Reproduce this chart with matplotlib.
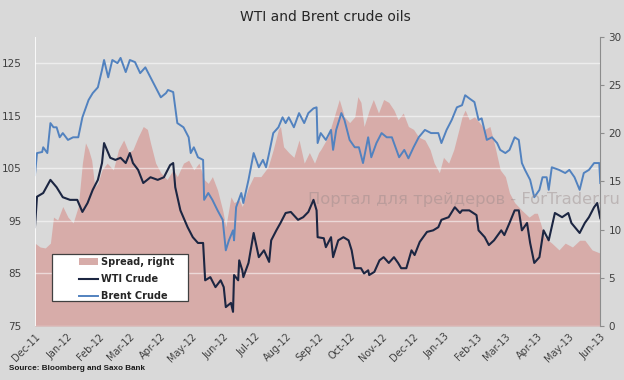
import matplotlib
matplotlib.use("Agg")
import matplotlib.pyplot as plt
from matplotlib.patches import Patch, Rectangle
from matplotlib.lines import Line2D
import pandas as pd

start = pd.Timestamp("2011-12-01")

wti_day = [0, 2, 8, 15, 21, 27, 34, 41, 46, 51, 56, 61, 65, 67, 73, 78, 83, 88, 92, 95, 100, 105, 112, 119, 125,
           131, 134, 136, 141, 148, 153, 158, 163, 165, 170, 175, 180, 183, 185, 190, 192, 193, 197, 198, 201, 202,
           207, 212, 217, 222, 227, 229, 234, 238, 243, 248, 255, 260, 265, 270, 273, 274, 280, 282, 287, 289, 294,
           299, 304, 307, 310, 316, 319, 323, 324, 329, 334, 338, 343, 348, 352, 355, 360, 365, 368, 373, 380, 386,
           391, 394, 401, 407, 412, 414, 421, 428, 430, 436, 440, 445, 452, 455, 460, 465, 469, 472, 477, 480, 484,
           489, 493, 498, 504, 511, 517, 520, 528, 533, 537, 542, 545, 548]
wti_val = [93.8, 99.6, 100.3, 102.8, 101.4, 99.5, 99.0, 99.0, 96.7, 98.4, 100.9, 102.8, 106.0, 109.8, 107.0, 106.6,
           107.0, 106.0, 107.9, 106.0, 104.7, 102.2, 103.3, 102.8, 103.3, 105.6, 106.0, 101.4, 97.0, 93.8, 91.9, 90.8,
           90.8, 83.7, 84.3, 82.4, 83.7, 82.4, 78.6, 79.4, 77.7, 84.7, 83.7, 87.5, 85.6, 84.3, 87.0, 92.7, 88.1, 89.4,
           87.2, 91.3, 93.2, 94.6, 96.5, 96.7, 95.2, 95.7, 96.7, 99.0, 97.0, 91.9, 91.7, 90.0, 91.9, 88.1, 91.3, 91.9,
           91.3, 89.4, 86.0, 86.0, 85.0, 85.6, 84.7, 85.3, 87.5, 88.1, 87.0, 88.1, 87.0, 86.0, 86.0, 89.4, 88.5, 91.0,
           92.9, 93.2, 93.8, 95.2, 95.7, 97.6, 96.5, 97.0, 97.0, 96.1, 93.2, 91.9, 90.4, 91.3, 93.2, 92.3, 94.6, 97.0,
           97.0, 93.2, 94.6, 90.8, 87.0, 88.1, 93.2, 91.3, 96.5, 95.7, 96.5, 94.6, 92.7, 94.6, 95.7, 97.6, 98.4, 95.5]

brent_day = [0, 2, 7, 8, 12, 15, 18, 21, 24, 27, 32, 37, 42, 46, 52, 56, 61, 65, 67, 71, 75, 80, 83, 88, 92, 97,
             102, 107, 112, 117, 122, 127, 129, 134, 138, 144, 149, 151, 154, 158, 163, 164, 168, 172, 177, 182, 185,
             188, 192, 193, 195, 200, 202, 207, 212, 217, 221, 224, 227, 231, 236, 240, 243, 246, 251, 256, 261, 265,
             270, 273, 274, 277, 282, 287, 289, 292, 297, 300, 305, 310, 314, 318, 323, 326, 331, 336, 341, 346, 348,
             353, 358, 362, 367, 372, 378, 384, 391, 394, 399, 404, 409, 414, 417, 421, 426, 430, 433, 438, 443, 448,
             451, 456, 460, 465, 469, 472, 475, 480, 484, 489, 492, 496, 498, 501, 508, 514, 518, 523, 528, 532, 537,
             542, 547, 548]
brent_val = [103.7, 107.9, 108.1, 109.0, 107.9, 113.6, 112.8, 112.8, 110.9, 111.7, 110.4, 110.9, 110.9, 114.7, 118.0,
             119.3, 120.4, 123.7, 125.6, 122.3, 125.6, 125.0, 126.0, 123.3, 125.6, 125.2, 123.1, 124.2, 122.3, 120.4,
             118.5, 119.3, 119.9, 119.5, 113.6, 112.8, 110.9, 107.9, 109.0, 107.1, 106.6, 99.0, 100.3, 99.0, 97.0,
             95.2, 89.4, 91.3, 93.2, 91.3, 97.6, 100.3, 98.4, 102.8, 107.9, 105.2, 106.6, 105.2, 107.9, 111.7, 112.8,
             114.7, 113.6, 114.7, 112.8, 115.5, 113.6, 115.5, 116.4, 116.6, 109.8, 111.7, 110.4, 112.3, 108.5, 112.3,
             115.5, 114.2, 110.4, 109.0, 109.0, 106.0, 110.9, 107.1, 109.8, 111.7, 110.9, 110.9, 109.8, 107.1, 108.5,
             106.9, 109.0, 110.9, 112.3, 111.7, 111.7, 109.8, 112.3, 114.2, 116.6, 117.0, 118.9, 118.3, 117.6, 114.2,
             114.5, 110.4, 110.9, 109.8, 108.5, 107.9, 108.5, 110.9, 110.4, 106.0, 104.7, 102.8, 99.5, 100.9, 103.3,
             103.3, 100.9, 105.2, 104.7, 104.1, 104.7, 103.3, 100.9, 104.1, 104.7, 106.0, 106.0, 102.2]

spread_day = [0, 5, 10, 15, 18, 22, 27, 32, 37, 42, 46, 49, 52, 55, 58, 61, 65, 70, 76, 81, 86, 91, 95, 100, 105,
              109, 112, 117, 122, 128, 134, 138, 144, 149, 154, 159, 164, 168, 172, 177, 182, 185, 190, 193, 198, 201,
              207, 212, 219, 226, 231, 236, 238, 241, 246, 251, 256, 261, 266, 271, 275, 277, 284, 290, 295, 300, 305,
              310, 313, 316, 319, 324, 328, 333, 338, 343, 348, 352, 357, 362, 367, 372, 378, 383, 387, 392, 396, 401,
              406, 411, 414, 417, 421, 426, 431, 436, 441, 446, 451, 456, 460, 465, 472, 479, 484, 487, 490, 494, 501,
              508, 514, 521, 528, 533, 540, 547, 548]
spread_val = [8.6, 8.2, 8.1, 8.6, 11.3, 11.0, 12.4, 11.3, 10.7, 12.4, 16.9, 19.0, 18.3, 17.2, 14.4, 14.8, 16.2, 16.9,
              16.2, 18.3, 19.3, 18.0, 18.3, 19.6, 20.7, 20.4, 19.0, 16.9, 15.9, 15.2, 16.2, 15.5, 16.9, 17.2, 16.2,
              16.9, 15.2, 14.8, 15.5, 14.1, 12.0, 10.3, 13.4, 12.8, 13.1, 12.4, 14.4, 15.5, 15.5, 16.5, 18.3, 20.4,
              20.7, 18.6, 18.0, 17.5, 19.3, 16.9, 18.0, 16.9, 18.0, 18.3, 19.6, 21.7, 23.5, 21.7, 21.1, 21.7, 23.8,
              23.2, 20.7, 22.4, 23.5, 22.1, 23.5, 23.2, 22.4, 21.4, 22.1, 20.7, 20.4, 19.6, 19.3, 18.3, 16.9, 15.9,
              17.5, 16.9, 18.3, 20.4, 21.7, 22.4, 21.4, 21.7, 21.1, 20.4, 20.7, 18.6, 16.2, 15.5, 13.8, 12.8, 12.0,
              11.3, 11.7, 11.7, 10.7, 9.2, 8.6, 7.9, 8.6, 8.2, 8.9, 8.9, 7.9, 7.6, 7.6]

month_ticks = pd.date_range("2011-12-01", "2013-06-01", freq="MS")
month_labels = [d.strftime("%b-%y") for d in month_ticks]

title = "WTI and Brent crude oils"
source = "Source: Bloomberg and Saxo Bank"
watermark = "Портал для трейдеров - ForTrader.ru"
legend_labels = ["Spread, right", "WTI Crude", "Brent Crude"]

def to_dates(days):
    return start + pd.to_timedelta(days, unit="D")

bg = "#d9d9d9"
pink = "#d7aca9"
wti_c = "#1c2642"
brent_c = "#5282bf"
txt = "#404040"

fig = plt.figure(figsize=(6.24, 3.80), dpi=100, facecolor=bg)
ax2 = fig.add_axes([0.056, 0.142, 0.906, 0.761])
ax = ax2.twinx()
ax2.set_facecolor(bg)
ax.patch.set_visible(False)

# spread on right axis
ax2.fill_between(to_dates(spread_day), spread_val, 0, color=pink, lw=0, zorder=1)
ax2.set_ylim(0, 30)
ax2.yaxis.tick_right()
ax2.set_yticks(range(0, 31, 5))

# prices on left axis
ax.yaxis.tick_left()
ax.plot(to_dates(brent_day), brent_val, color=brent_c, lw=1.4, zorder=3)
ax.plot(to_dates(wti_day), wti_val, color=wti_c, lw=1.5, zorder=4)
ax.set_ylim(75, 130)
ax.set_yticks(range(75, 126, 10))
ax.grid(axis="y", color="white", alpha=0.55, lw=1.0, zorder=2)
ax.set_axisbelow(False)

ax2.set_xlim(month_ticks[0], month_ticks[-1])
for a in (ax, ax2):
    for s in a.spines.values():
        s.set_visible(False)

ax2.spines["right"].set_visible(True)
ax2.spines["right"].set_color("#8c8c8c")
ax2.tick_params(axis="y", right=True, left=False, length=3, color="#8c8c8c", labelsize=7.5,
                labelcolor=txt, pad=3)
ax.tick_params(axis="y", left=False, right=False, labelsize=7.5, labelcolor=txt, pad=6)
ax.axvline(month_ticks[0], color="white", lw=1.2, zorder=5)

ax2.set_xticks(month_ticks)
ax2.set_xticklabels(month_labels, rotation=45, ha="right", rotation_mode="anchor", fontsize=7, color=txt)
ax2.tick_params(axis="x", length=0, pad=4)

fig.text(0.522, 0.955, title, ha="center", va="center", fontsize=10, color="#262626")
fig.text(0.014, 0.03, source, ha="left", va="center", fontsize=5.9, color="#1a1a1a",
         fontweight="bold", family="Liberation Sans")
fig.text(0.994, 0.476, watermark, ha="right", va="center", fontsize=11.8,
         color="#9a8a8a", alpha=0.45, zorder=10)

# legend box (white, dark border) with frameless legend inside
box = Rectangle((52 / 624, 1 - 301 / 380), 136 / 624, 47 / 380, transform=fig.transFigure,
                facecolor="white", edgecolor="#404040", lw=0.9, zorder=8)
ax.add_patch(box)
box.set_clip_on(False)

handles = [Patch(facecolor=pink, edgecolor="none"),
           Line2D([], [], color=wti_c, lw=1.5),
           Line2D([], [], color=brent_c, lw=1.4)]
leg = ax.legend(handles, legend_labels, loc="center left",
                bbox_to_anchor=(74 / 624, 1 - 279 / 380), bbox_transform=fig.transFigure,
                frameon=False, prop={"weight": "bold", "size": 7}, handlelength=2.0,
                borderpad=0.0, labelspacing=0.75, handletextpad=0.3)
leg.set_zorder(9)
for t in leg.get_texts():
    t.set_color("#262626")

fig.savefig("out.png", dpi=100, facecolor=bg)
